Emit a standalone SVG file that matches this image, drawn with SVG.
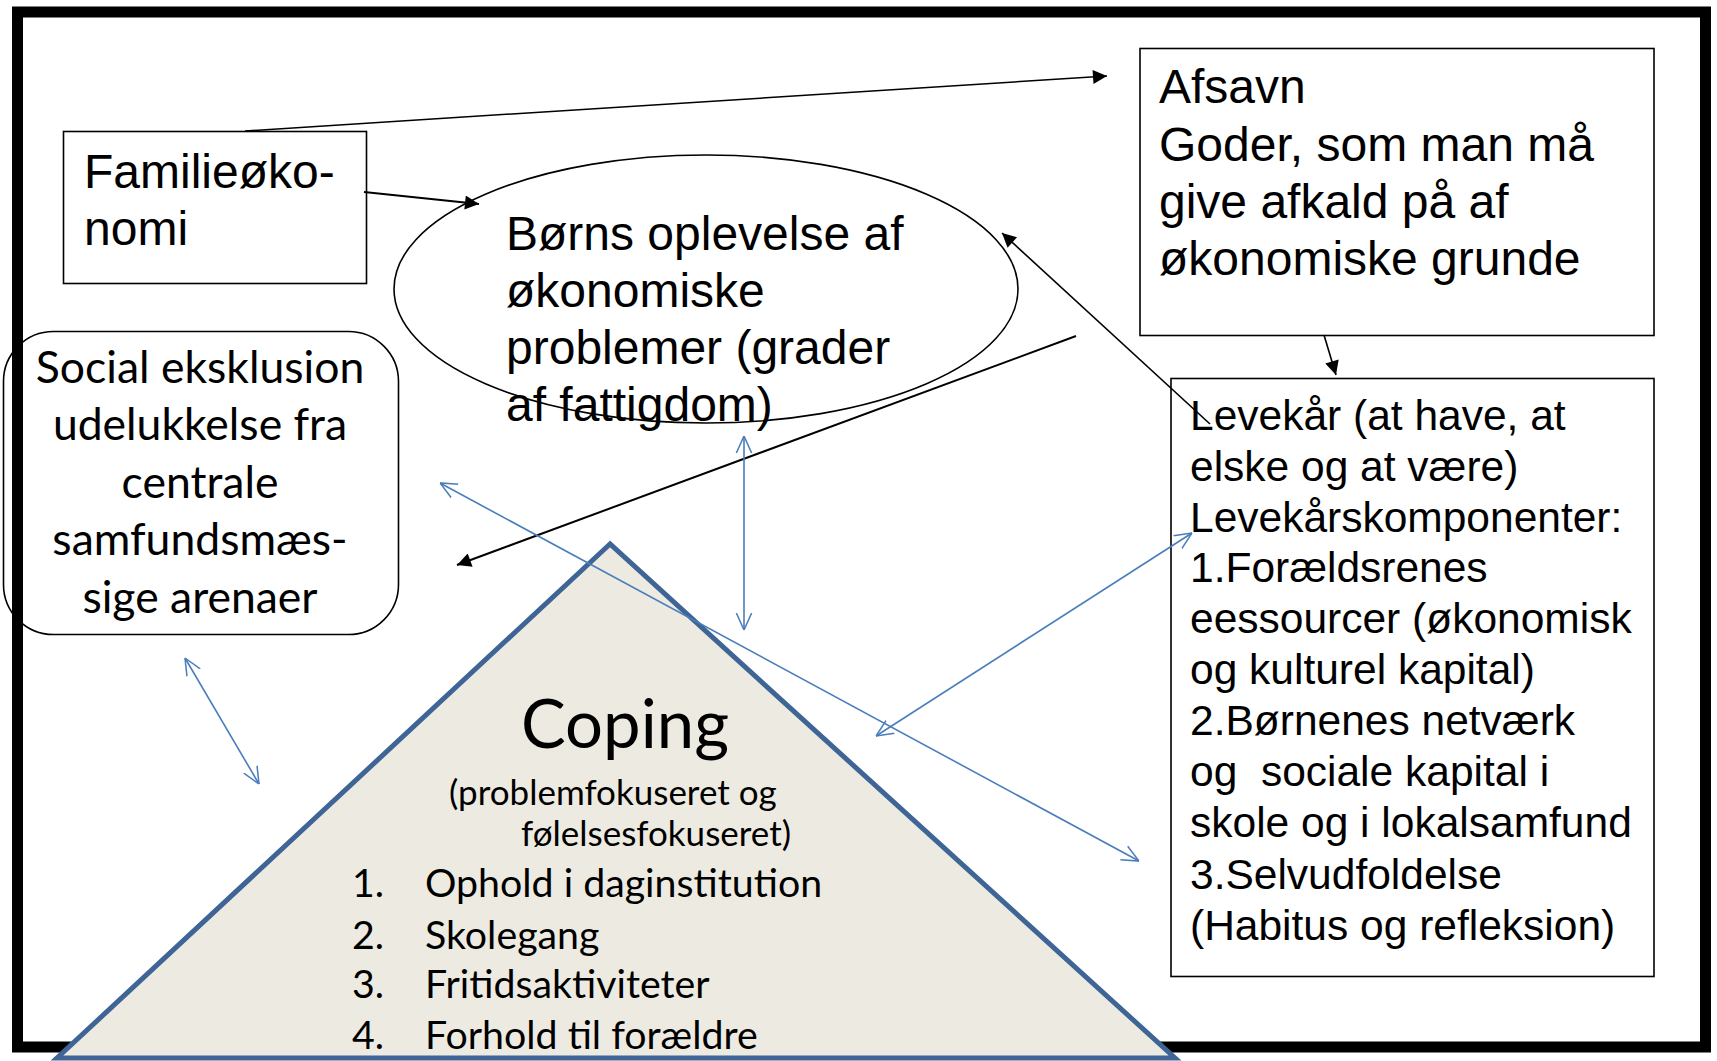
<svg xmlns="http://www.w3.org/2000/svg" width="1717" height="1061" viewBox="0 0 1717 1061">
<style>
.sans{font-family:"Liberation Sans",Arial,sans-serif;fill:#000}
.cal{font-family:Lato,"Open Sans",sans-serif;fill:#000}
.big{font-size:48px}
.mid{font-size:42.5px}
.box{fill:none;stroke:#000;stroke-width:1.6}
.blk{stroke:#000;fill:none}
.blu{stroke:#4A7EBB;stroke-width:1.6;fill:none}
</style>
<defs>
<marker id="ah" viewBox="0 0 10 10" refX="10" refY="5" markerUnits="userSpaceOnUse" markerWidth="17" markerHeight="14" orient="auto">
<path d="M0,0 L10,5 L0,10 z" fill="#000"/>
</marker>
<marker id="ob" viewBox="0 0 10 10" refX="10" refY="5" markerUnits="userSpaceOnUse" markerWidth="17" markerHeight="19" orient="auto-start-reverse">
<path d="M0,0.5 L10,5 L0,9.5" fill="none" stroke="#4A7EBB" stroke-width="0.9"/>
</marker>
</defs>
<rect width="1717" height="1061" fill="#fff"/>
<rect id="frame" x="17.5" y="12" width="1688" height="1035" fill="none" stroke="#000" stroke-width="11"/>

<g id="familieokonomi">
<rect class="box" x="63.5" y="131.5" width="303" height="152"/>
<text class="sans big" x="84" y="188">Familieøko-</text>
<text class="sans big" x="84" y="245">nomi</text>
</g>

<g id="borns-oplevelse">
<ellipse cx="706" cy="289" rx="312" ry="134" class="box"/>
<text class="sans big" x="506" y="250">Børns oplevelse af</text>
<text class="sans big" x="506" y="307">økonomiske</text>
<text class="sans big" x="506" y="364">problemer (grader</text>
<text class="sans big" x="506" y="421">af fattigdom)</text>
</g>

<g id="afsavn">
<rect class="box" x="1140" y="48.5" width="514" height="287"/>
<text class="sans big" x="1159" y="103">Afsavn</text>
<text class="sans big" x="1159" y="161">Goder, som man må</text>
<text class="sans big" x="1159" y="218">give afkald på af</text>
<text class="sans big" x="1159" y="275">økonomiske grunde</text>
</g>

<g id="levekaar">
<rect class="box" x="1171" y="378.5" width="483" height="598"/>
<text class="sans mid" x="1190" y="430">Levekår (at have, at</text>
<text class="sans mid" x="1190" y="481">elske og at være)</text>
<text class="sans mid" x="1190" y="532">Levekårskomponenter:</text>
<text class="sans mid" x="1190" y="582">1.Forældsrenes</text>
<text class="sans mid" x="1190" y="633">eessourcer (økonomisk</text>
<text class="sans mid" x="1190" y="684">og kulturel kapital)</text>
<text class="sans mid" x="1190" y="735">2.Børnenes netværk</text>
<text class="sans mid" x="1190" y="786" xml:space="preserve">og  sociale kapital i</text>
<text class="sans mid" x="1190" y="837">skole og i lokalsamfund</text>
<text class="sans mid" x="1190" y="889">3.Selvudfoldelse</text>
<text class="sans mid" x="1190" y="940">(Habitus og refleksion)</text>
</g>

<g id="social-eksklusion">
<rect class="box" x="3.5" y="331.5" width="395" height="303" rx="50" ry="50"/>
<g class="cal" font-size="44.5" text-anchor="middle">
<text x="200" y="383">Social eksklusion</text>
<text x="200" y="440">udelukkelse fra</text>
<text x="200" y="498">centrale</text>
<text x="200" y="555">samfundsmæs-</text>
<text x="200" y="613">sige arenaer</text>
</g>
</g>

<g id="coping">
<polygon points="610,544 57,1058 1175,1058" fill="#EDEBE1" stroke="#3E6596" stroke-width="5" stroke-linejoin="miter"/>
<text class="cal" font-size="67" x="625" y="748" text-anchor="middle">Coping</text>
<text class="cal" font-size="35" x="449" y="805">(problemfokuseret og</text>
<text class="cal" font-size="35" x="521" y="846">følelsesfokuseret)</text>
<g class="cal" font-size="39.3">
<text x="352" y="897">1.</text><text x="425" y="897">Ophold i daginstitution</text>
<text x="352" y="949">2.</text><text x="425" y="949">Skolegang</text>
<text x="352" y="998">3.</text><text x="425" y="998">Fritidsaktiviteter</text>
<text x="352" y="1049">4.</text><text x="425" y="1049">Forhold til forældre</text>
</g>
</g>

<g id="connectors">
<line class="blk" stroke-width="1.5" x1="245" y1="131" x2="1107" y2="76" marker-end="url(#ah)"/>
<line class="blk" stroke-width="2" x1="364" y1="192" x2="479" y2="204" marker-end="url(#ah)"/>
<line class="blk" stroke-width="1.6" x1="1210" y1="424" x2="1002" y2="233" marker-end="url(#ah)"/>
<line class="blk" stroke-width="1.6" x1="1324" y1="335" x2="1336" y2="375" marker-end="url(#ah)"/>
<line class="blk" stroke-width="2" x1="1076" y1="336" x2="457" y2="565" marker-end="url(#ah)"/>
<line class="blu" x1="744" y1="436" x2="744" y2="630" marker-start="url(#ob)" marker-end="url(#ob)"/>
<line class="blu" x1="440" y1="483" x2="1139" y2="861" marker-start="url(#ob)" marker-end="url(#ob)"/>
<line class="blu" x1="1192" y1="533" x2="876" y2="736" marker-start="url(#ob)" marker-end="url(#ob)"/>
<line class="blu" x1="185" y1="658" x2="259" y2="784" marker-start="url(#ob)" marker-end="url(#ob)"/>
</g>
</svg>
